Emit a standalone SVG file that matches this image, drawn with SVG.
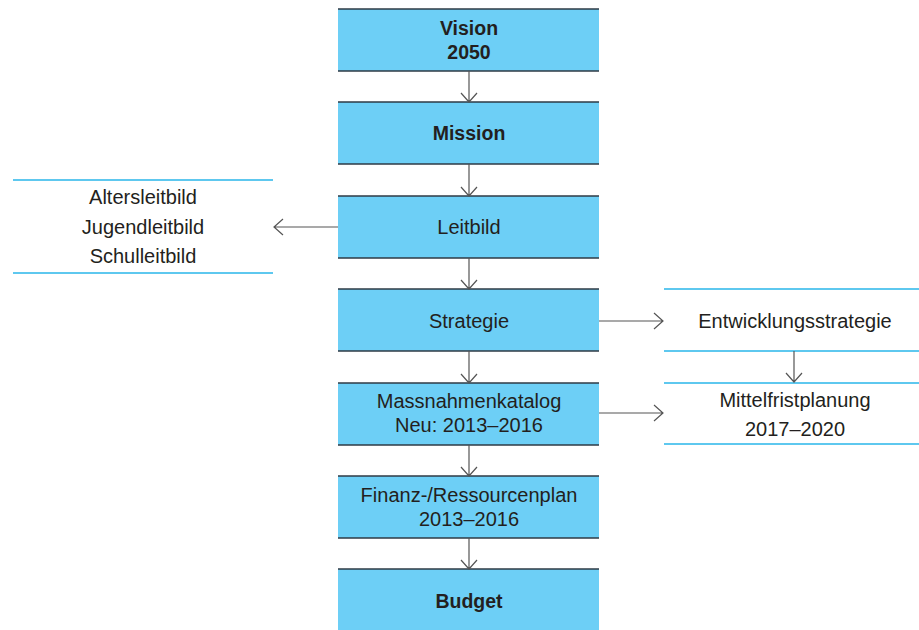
<svg xmlns="http://www.w3.org/2000/svg" width="919" height="630" viewBox="0 0 919 630">
<defs>
<style>
.box{fill:#6dcff6;}
.edge{stroke:#2e3a44;stroke-width:1.3;}
.t{font-family:"Liberation Sans",Arial,sans-serif;font-size:20px;fill:#231f20;text-anchor:middle;dominant-baseline:central;}
.b{font-weight:bold;font-size:19.5px;}
.cy{stroke:#29b6ea;stroke-width:1.3;}
.conn{stroke:#555;stroke-width:1.2;fill:none;}
</style>
</defs>
<rect width="919" height="630" fill="#ffffff"/>
<g id="vision"><rect class="box" x="338" y="9" width="261" height="62"/><line class="edge" x1="338" y1="9" x2="599" y2="9"/><line class="edge" x1="338" y1="71" x2="599" y2="71"/><text class="t b" x="469" y="28">Vision</text><text class="t b" x="469" y="52">2050</text></g>
<g id="mission"><rect class="box" x="338" y="102" width="261" height="62"/><line class="edge" x1="338" y1="102" x2="599" y2="102"/><line class="edge" x1="338" y1="164" x2="599" y2="164"/><text class="t b" x="469" y="133">Mission</text></g>
<g id="leitbild"><rect class="box" x="338" y="196" width="261" height="62"/><line class="edge" x1="338" y1="196" x2="599" y2="196"/><line class="edge" x1="338" y1="258" x2="599" y2="258"/><text class="t" x="469" y="227">Leitbild</text></g>
<g id="strategie"><rect class="box" x="338" y="289" width="261" height="62"/><line class="edge" x1="338" y1="289" x2="599" y2="289"/><line class="edge" x1="338" y1="351" x2="599" y2="351"/><text class="t" x="469" y="321">Strategie</text></g>
<g id="massnahmen"><rect class="box" x="338" y="383" width="261" height="62"/><line class="edge" x1="338" y1="383" x2="599" y2="383"/><line class="edge" x1="338" y1="445" x2="599" y2="445"/><text class="t" x="469" y="401">Massnahmenkatalog</text><text class="t" x="469" y="425">Neu: 2013–2016</text></g>
<g id="finanz"><rect class="box" x="338" y="476" width="261" height="62"/><line class="edge" x1="338" y1="476" x2="599" y2="476"/><line class="edge" x1="338" y1="538" x2="599" y2="538"/><text class="t" x="469" y="495">Finanz-/Ressourcenplan</text><text class="t" x="469" y="519">2013–2016</text></g>
<g id="budget"><rect class="box" x="338" y="569" width="261" height="61"/><line class="edge" x1="338" y1="569" x2="599" y2="569"/><text class="t b" x="469" y="601">Budget</text></g>
<g id="leitbilder"><line class="cy" x1="13" y1="180" x2="273" y2="180"/><line class="cy" x1="13" y1="273" x2="273" y2="273"/><text class="t" x="143" y="197">Altersleitbild</text><text class="t" x="143" y="227">Jugendleitbild</text><text class="t" x="143" y="256">Schulleitbild</text></g>
<g id="entwicklung"><line class="cy" x1="664" y1="289" x2="919" y2="289"/><line class="cy" x1="664" y1="351" x2="919" y2="351"/><text class="t" x="795" y="321">Entwicklungsstrategie</text></g>
<g id="mittelfrist"><line class="cy" x1="664" y1="383" x2="919" y2="383"/><line class="cy" x1="664" y1="444" x2="919" y2="444"/><text class="t" x="795" y="400">Mittelfristplanung</text><text class="t" x="795" y="429">2017–2020</text></g>
<g id="connectors">
<path class="conn" d="M469 71V102M461 93L469 102L477 93"/>
<path class="conn" d="M469 164V196M461 187L469 196L477 187"/>
<path class="conn" d="M469 258V289M461 280L469 289L477 280"/>
<path class="conn" d="M469 351V383M461 374L469 383L477 374"/>
<path class="conn" d="M469 445V476M461 467L469 476L477 467"/>
<path class="conn" d="M469 538V569M461 560L469 569L477 560"/>
<path class="conn" d="M338 227H274M283 219L274 227L283 235"/>
<path class="conn" d="M599 321H663M654 313L663 321L654 329"/>
<path class="conn" d="M599 413H663M654 405L663 413L654 421"/>
<path class="conn" d="M794 351V382M786 373L794 382L802 373"/>
</g>
</svg>
